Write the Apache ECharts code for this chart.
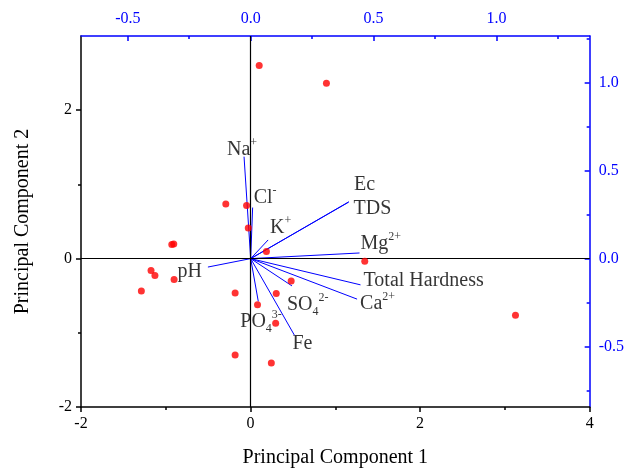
<!DOCTYPE html>
<html>
<head>
<meta charset="utf-8">
<script src="https://cdn.jsdelivr.net/npm/echarts@6/dist/echarts.min.js"></script>
<style>
  html, body { margin: 0; padding: 0; background: #fff; }
  #chart { width: 627px; height: 473px; }
</style>
</head>
<body>
<div id="chart"></div>
<script>
(function(){

  // sample scores (PC1, PC2)
  var scoreX = [0.102, 0.895, -0.292, -0.047, -0.027, 0.187, -0.929, -0.906, -1.174, -1.128, -0.902,
                -1.288, -0.182, 0.479, 0.303, 0.082, 0.296, 1.347, 3.125, -0.182, 0.245];
  var scoreY = [2.601, 2.362, 0.735, 0.717, 0.411, 0.097, 0.190, 0.198, -0.161, -0.227, -0.281,
                -0.435, -0.464, -0.302, -0.471, -0.621, -0.870, -0.036, -0.763, -1.299, -1.406];

  // variable loadings (top / right axes)
  var varNames = ['Na+', 'Cl-', 'K+', 'Ec', 'TDS', 'Mg2+', 'Total Hardness', 'Ca2+', 'SO42-', 'PO43-', 'Fe', 'pH'];
  var varLabels = ['{t|Na}{sup|+}', '{t|Cl}{sup|-}', '{t|K}{sup|+}', '{t|Ec}', '{t|TDS}', '{t|Mg}{sup|2+}',
                   '{t|Total Hardness}', '{t|Ca}{sup|2+}', '{t|SO}{sub|4}{sup|2-}', '{t|PO}{sub|4}{sup|3-}', '{t|Fe}', '{t|pH}'];
  var loadX = [-0.027, 0.008, 0.071, 0.400, 0.398, 0.443, 0.447, 0.433, 0.168, 0.031, 0.178, -0.174];
  var loadY = [0.579, 0.290, 0.106, 0.323, 0.320, 0.032, -0.149, -0.230, -0.155, -0.243, -0.435, -0.048];

  // tick values
  var pc1Ticks = [-2, 0, 2, 4];
  var pc1Minor = [-1, 1, 3];
  var pc2Ticks = [-2, 0, 2];
  var pc2Minor = [-1, 1];
  var loadXTicks = [-0.5, 0, 0.5, 1.0];
  var loadXMinor = [-0.25, 0.25, 0.75, 1.25];
  var loadYTicks = [-0.5, 0, 0.5, 1.0];
  var loadYMinor = [-0.75, -0.25, 0.25, 0.75, 1.25];

  // label nudge (px) from arrow tip; pH sits on the left
  var labelNudge = [[-17, -7], [1, -10], [2, -12], [5, -17], [5, 6], [1, -9],
                    [3, -4], [3, 5], [-5, 19], [-18, 20], [-2, 9], [-6, 5]];

  var FONT = '"Liberation Serif", "Times New Roman", serif';
  var BLUE = '#0000ff';

  function axisBase(min, max, pos, color, ticks, inside, fmt){
    return {
      type: 'value', position: pos, min: min, max: max,
      axisLine: { show: true, onZero: false, lineStyle: { color: color, width: 1.5 } },
      axisTick: { show: true, inside: inside, length: 5, customValues: ticks, lineStyle: { color: color, width: 1.5 } },
      axisLabel: { show: true, customValues: ticks, color: color, fontFamily: FONT, fontSize: 16, margin: 9,
                   formatter: fmt },
      splitLine: { show: false }
    };
  }
  function minorAxis(min, max, pos, color, ticks, inside){
    return {
      type: 'value', position: pos, min: min, max: max,
      axisLine: { show: false, onZero: false },
      axisTick: { show: true, inside: inside, length: 3, customValues: ticks, lineStyle: { color: color, width: 1.5 } },
      axisLabel: { show: false },
      splitLine: { show: false }
    };
  }
  function fmt0(v){ return String(v); }
  function fmt1(v){ return v.toFixed(1); }

  var xBottom = axisBase(-2, 4, 'bottom', '#000', pc1Ticks, false, fmt0);
  xBottom.name = 'Principal Component 1';
  xBottom.nameLocation = 'middle';
  xBottom.nameGap = 41;
  xBottom.nameTextStyle = { fontFamily: FONT, fontSize: 20, color: '#000' };

  var yLeft = axisBase(-2, 3, 'left', '#000', pc2Ticks, false, fmt0);
  yLeft.name = 'Principal Component 2';
  yLeft.nameLocation = 'middle';
  yLeft.nameGap = 48;
  yLeft.nameTextStyle = { fontFamily: FONT, fontSize: 20, color: '#000' };

  var scores = [];
  for (var i = 0; i < scoreX.length; i++) {
    scores.push([scoreX[i], scoreY[i]]);
  }

  var series = [{
    name: 'scores', type: 'scatter', xAxisIndex: 0, yAxisIndex: 0,
    symbolSize: 7, itemStyle: { color: '#ff0000' },
    data: scores, z: 5,
    markLine: {
      silent: true, symbol: 'none', animation: false,
      label: { show: false },
      lineStyle: { color: '#000', type: 'solid', width: 1.2 },
      data: [{ xAxis: 0 }, { yAxis: 0 }]
    }
  }];

  // one line per variable from origin
  for (var j = 0; j < varNames.length; j++) {
    series.push({
      name: varNames[j], type: 'line', xAxisIndex: 1, yAxisIndex: 1,
      symbol: 'none', animation: false,
      lineStyle: { color: BLUE, width: 1 },
      data: [[0, 0], [loadX[j], loadY[j]]]
    });
  }

  var labelData = [];
  for (var k = 0; k < varNames.length; k++) {
    labelData.push({
      value: [loadX[k], loadY[k]],
      label: { position: varNames[k] == 'pH' ? 'left' : 'right', offset: labelNudge[k] }
    });
  }
  series.push({
    name: 'labels', type: 'scatter', xAxisIndex: 1, yAxisIndex: 1,
    symbolSize: 0, silent: true, data: labelData,
    label: {
      show: true, distance: 0,
      formatter: function(p){ return varLabels[p.dataIndex]; },
      rich: {
        t: { fontFamily: FONT, fontSize: 20, color: '#000', lineHeight: 26 },
        sup: { fontFamily: FONT, fontSize: 12, color: '#000', lineHeight: 13, verticalAlign: 'top' },
        sub: { fontFamily: FONT, fontSize: 12, color: '#000', lineHeight: 8, verticalAlign: 'bottom' }
      }
    }
  });

  var option = {
    backgroundColor: '#fff',
    animation: false,
    grid: { left: 81, right: 32, top: 36, bottom: 61, containLabel: false },
    xAxis: [
      xBottom,
      axisBase(-0.6905, 1.3796, 'top', BLUE, loadXTicks, true, fmt1),
      minorAxis(-2, 4, 'bottom', '#000', pc1Minor, false),
      minorAxis(-0.6905, 1.3796, 'top', BLUE, loadXMinor, true)
    ],
    yAxis: [
      yLeft,
      axisBase(-0.8426, 1.264, 'right', BLUE, loadYTicks, true, fmt1),
      minorAxis(-2, 3, 'left', '#000', pc2Minor, false),
      minorAxis(-0.8426, 1.264, 'right', BLUE, loadYMinor, true)
    ],
    series: series
  };

  echarts.init(document.getElementById('chart')).setOption(option);

})();
</script>
</body>
</html>
